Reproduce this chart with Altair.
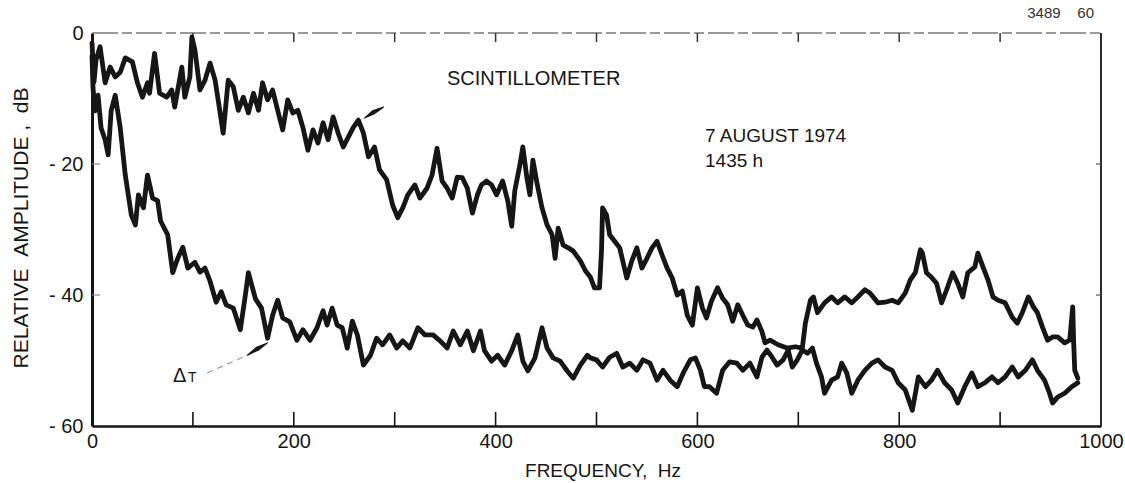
import altair as alt
import pandas as pd

# Spectrum of the scintillometer signal (frequency in Hz, relative amplitude in dB)
SCINT_HZ = [
    0, 2, 4, 8, 13, 18, 23, 28, 33, 40,
    45, 50, 55, 57, 62, 67, 74, 79, 82, 89,
    92, 97, 99, 102, 107, 112, 117, 122, 127, 130,
    135, 140, 145, 150, 155, 160, 165, 169, 174, 179,
    184, 189, 194, 199, 204, 209, 214, 219, 224, 229,
    234, 239, 244, 249, 254, 259, 264, 269, 274, 280,
    285, 292, 298, 303, 308, 313, 320, 325, 332, 337,
    342, 347, 352, 357, 362, 367, 372, 377, 382, 386,
    391, 396, 401, 407, 412, 416, 419, 424, 427, 431,
    434, 437, 441, 446, 451, 456, 459, 462, 467, 472,
    477, 484, 489, 494, 498, 503, 505, 506, 510, 513,
    518, 523, 530, 535, 540, 545, 550, 555, 560, 565,
    570, 575, 580, 585, 590, 595, 600, 605, 609, 614,
    620, 625, 630, 635, 640, 645, 650, 655, 659, 664,
    667, 672, 680, 689, 697, 704, 707, 712, 715, 719,
    726, 733, 739, 746, 753, 759, 766, 771, 779, 786,
    793, 799, 806, 811, 816, 821, 823, 827, 832, 837,
    842, 847, 853, 858, 863, 868, 875, 878, 883, 888,
    893, 898, 905, 912, 917, 922, 928, 933, 937, 942,
    947, 952, 957, 964, 969, 972, 973, 974, 977,
]
SCINT_DB = [
    -1.5, -7.5, -4.1, -2.1, -7.6, -5.2, -6.7, -6.0, -3.8, -4.4,
    -7.6, -9.8, -7.6, -9.2, -3.1, -9.2, -9.8, -8.7, -11.3, -5.2,
    -9.8, -6.7, -0.6, -2.6, -8.7, -7.2, -4.6, -7.2, -12.2, -15.3,
    -7.2, -8.2, -11.8, -9.8, -12.2, -9.2, -11.8, -7.6, -10.2, -8.7,
    -11.8, -14.8, -10.2, -12.2, -11.8, -14.4, -17.9, -14.8, -16.8, -13.7,
    -16.3, -12.8, -15.3, -17.4, -15.9, -14.4, -13.3, -15.3, -18.9, -17.4,
    -20.9, -22.4, -26.3, -28.2, -26.7, -24.7, -23.2, -25.2, -23.7, -21.7,
    -17.6, -22.6, -23.7, -25.2, -22.0, -22.1, -23.7, -27.5, -24.7, -23.2,
    -22.6, -23.2, -24.7, -22.6, -25.6, -29.5, -24.1, -20.2, -17.4, -22.1,
    -24.7, -19.4, -22.9, -26.7, -29.3, -30.8, -34.4, -29.8, -32.4, -32.8,
    -33.3, -34.8, -36.3, -37.3, -38.9, -38.9, -33.1, -26.7, -27.8, -30.8,
    -31.8, -32.8, -37.4, -34.8, -32.8, -35.9, -34.4, -32.8, -31.8, -33.9,
    -35.9, -37.4, -40.0, -39.4, -43.1, -44.6, -38.9, -42.0, -43.5, -40.9,
    -38.9, -40.5, -41.5, -44.0, -41.5, -43.1, -44.6, -44.9, -43.8, -45.6,
    -47.3, -46.9, -47.6, -48.1, -47.9, -48.1, -44.3, -40.8, -40.3, -42.7,
    -41.2, -40.3, -41.2, -40.3, -41.2, -40.3, -39.2, -39.7, -41.2, -41.1,
    -40.8, -41.2, -39.7, -37.7, -36.6, -33.1, -33.6, -36.6, -37.3, -38.2,
    -41.2, -39.2, -36.6, -38.2, -40.3, -36.6, -35.7, -33.6, -35.7, -37.7,
    -40.3, -40.8, -41.2, -43.4, -44.3, -42.7, -40.3, -41.8, -42.7, -44.9,
    -46.9, -46.4, -46.4, -47.3, -46.9, -41.8, -47.6, -51.5, -52.7,
]

# Spectrum of the temperature difference (Delta T) signal
DT_HZ = [
    0, 1, 3, 6, 9, 13, 16, 19, 23, 28,
    33, 39, 43, 46, 51, 55, 60, 65, 68, 75,
    80, 85, 90, 95, 102, 107, 112, 117, 123, 128,
    133, 140, 147, 152, 155, 162, 168, 174, 179, 184,
    189, 196, 203, 209, 216, 223, 229, 233, 238, 243,
    248, 253, 258, 263, 269, 276, 282, 288, 295, 302,
    308, 315, 323, 330, 338, 345, 352, 358, 365, 372,
    378, 385, 389, 396, 402, 409, 416, 422, 427, 432,
    439, 446, 451, 457, 464, 471, 477, 484, 491, 494,
    500, 506, 513, 520, 526, 533, 540, 546, 553, 560,
    566, 573, 580, 586, 593, 598, 603, 607, 612, 619,
    625, 632, 639, 645, 652, 659, 664, 669, 674, 679,
    685, 690, 694, 699, 704, 709, 714, 718, 723, 726,
    733, 739, 743, 748, 753, 759, 766, 773, 779, 786,
    793, 799, 806, 813, 819, 826, 832, 838, 845, 852,
    858, 865, 872, 878, 885, 892, 898, 905, 912, 918,
    925, 932, 937, 944, 949, 952, 957, 964, 971, 977,
]
DT_DB = [
    -3.5, -8.4, -11.9, -9.5, -14.5, -16.3, -18.6, -11.9, -9.5, -14.5,
    -21.7, -27.8, -29.3, -24.7, -26.7, -21.7, -25.2, -25.6, -28.7, -30.8,
    -36.6, -34.4, -32.7, -35.9, -35.0, -36.5, -35.9, -37.9, -41.1, -39.5,
    -41.5, -42.0, -45.3, -40.0, -36.6, -40.6, -42.0, -46.6, -43.1, -40.8,
    -43.5, -44.1, -46.9, -45.3, -46.9, -45.0, -42.4, -44.6, -42.0, -44.6,
    -45.0, -48.1, -44.0, -46.1, -50.7, -49.2, -46.6, -47.6, -46.1, -48.1,
    -47.0, -48.1, -45.0, -46.1, -46.1, -47.0, -48.1, -45.5, -47.6, -45.5,
    -48.5, -45.5, -48.5, -50.1, -49.2, -50.7, -48.5, -46.1, -50.1, -51.6,
    -49.6, -45.0, -48.1, -49.6, -50.1, -51.6, -52.7, -50.7, -49.2, -49.6,
    -49.9, -51.0, -49.5, -48.9, -51.0, -50.4, -51.5, -49.9, -50.4, -53.0,
    -51.5, -53.0, -54.0, -51.9, -49.9, -49.6, -51.5, -54.0, -54.0, -55.0,
    -51.5, -50.2, -50.4, -51.5, -50.4, -52.5, -49.5, -48.4, -49.5, -50.7,
    -49.9, -48.4, -51.0, -49.9, -48.4, -48.9, -48.1, -50.4, -52.5, -55.0,
    -53.0, -52.5, -50.4, -51.9, -55.0, -53.0, -51.5, -50.4, -49.9, -51.0,
    -51.5, -53.4, -54.5, -57.6, -52.5, -54.0, -53.0, -51.5, -53.4, -54.5,
    -56.5, -54.0, -51.9, -54.0, -53.4, -52.5, -53.4, -52.5, -51.0, -52.5,
    -51.5, -49.9, -51.5, -53.0, -55.0, -56.5, -55.6, -55.0, -54.0, -53.4,
]

assert len(SCINT_HZ) == len(SCINT_DB)
assert len(DT_HZ) == len(DT_DB)

# Axis tick values
X_LABELS = [0, 200, 400, 600, 800, 1000]
X_TICKS = [100, 200, 300, 400, 500, 600, 700, 800, 900]
Y_LABELS = [0, -20, -40, -60]
Y_TICKS = [-20, -40]

# Pointers from the labels to the curves
SCINT_PTR_HZ = [270, 279, 289]
SCINT_PTR_DB = [-13.0, -12.1, -11.3]
DT_LEAD_HZ = [114, 154]
DT_LEAD_DB = [-51.9, -49.2]
DT_PTR_HZ = [154, 164, 174]
DT_PTR_DB = [-49.2, -48.2, -47.3]

FONT = "Liberation Sans"
INK = "#161616"
NBSP = "\u00a0"
W, H = 1009, 393

x_scale = alt.Scale(domain=[0, 1000], nice=False, zero=False)
y_scale = alt.Scale(domain=[-60, 0], nice=False, zero=False)

spectra = pd.concat([
    pd.DataFrame({"hz": SCINT_HZ, "db": SCINT_DB, "series": "SCINTILLOMETER"}),
    pd.DataFrame({"hz": DT_HZ, "db": DT_DB, "series": "DT"}),
], ignore_index=True)

x_axis = alt.Axis(
    values=X_LABELS, ticks=False, grid=False, title=None, format="d",
    domainColor=INK, domainWidth=2.5, labelFlush=False,
    labelFont=FONT, labelFontSize=20, labelColor=INK, labelPadding=5,
)
y_axis = alt.Axis(
    values=Y_LABELS, ticks=False, grid=False, title=None,
    domainColor=INK, domainWidth=3,
    labelExpr="datum.value == 0 ? '0' : '- ' + abs(datum.value)",
    labelFont=FONT, labelFontSize=20, labelColor=INK, labelPadding=9,
)

lines = alt.Chart(spectra).mark_line(
    color=INK, strokeWidth=4.8, strokeJoin="round", strokeCap="round"
).encode(
    x=alt.X("hz:Q", scale=x_scale, axis=x_axis),
    y=alt.Y("db:Q", scale=y_scale, axis=y_axis),
    detail="series:N",
    order="hz:Q",
)

# Inward tick marks along the frame
bottom_ticks = alt.Chart(pd.DataFrame({"hz": X_TICKS})).mark_rule(
    color=INK, strokeWidth=1.6
).encode(x=alt.X("hz:Q", scale=x_scale), y=alt.value(H), y2=alt.value(H - 14))

top_ticks = alt.Chart(pd.DataFrame({"hz": X_TICKS})).mark_rule(
    color="#333", strokeWidth=1.5
).encode(x=alt.X("hz:Q", scale=x_scale), y=alt.value(0), y2=alt.value(9))

left_ticks = alt.Chart(pd.DataFrame({"db": Y_TICKS})).mark_rule(
    color="#888", strokeWidth=1.2
).encode(y=alt.Y("db:Q", scale=y_scale), x=alt.value(0), x2=alt.value(8))

right_ticks = alt.Chart(pd.DataFrame({"db": Y_TICKS})).mark_rule(
    color="#555", strokeWidth=1.2
).encode(y=alt.Y("db:Q", scale=y_scale), x=alt.value(W), x2=alt.value(W - 5))

# Top and right edges of the frame
top_edge = alt.Chart(pd.DataFrame({"k": [0]})).mark_rule(
    color="#777", strokeWidth=1.5, strokeDash=[26, 4, 10, 4]
).encode(x=alt.value(0), x2=alt.value(W), y=alt.value(0))

right_edge = alt.Chart(pd.DataFrame({"k": [0]})).mark_rule(
    color=INK, strokeWidth=1.8
).encode(x=alt.value(W), y=alt.value(0), y2=alt.value(H))

# Arrow pointers drawn as tapered trails
scint_ptr = alt.Chart(pd.DataFrame({
    "hz": SCINT_PTR_HZ, "db": SCINT_PTR_DB, "w": [0, 4.5, 1.2]
})).mark_trail(color=INK).encode(
    x=alt.X("hz:Q", scale=x_scale), y=alt.Y("db:Q", scale=y_scale),
    size=alt.Size("w:Q", scale=None, legend=None), order="hz:Q",
)

dt_lead = alt.Chart(pd.DataFrame({"hz": DT_LEAD_HZ, "db": DT_LEAD_DB})).mark_line(
    color="#999", strokeWidth=1.2, strokeDash=[6, 5]
).encode(x=alt.X("hz:Q", scale=x_scale), y=alt.Y("db:Q", scale=y_scale), order="hz:Q")

dt_ptr = alt.Chart(pd.DataFrame({
    "hz": DT_PTR_HZ, "db": DT_PTR_DB, "w": [1.2, 4.5, 0]
})).mark_trail(color=INK).encode(
    x=alt.X("hz:Q", scale=x_scale), y=alt.Y("db:Q", scale=y_scale),
    size=alt.Size("w:Q", scale=None, legend=None), order="hz:Q",
)


def label(text, x, y, size, align="left", baseline="alphabetic", angle=0,
          color=INK, weight="normal"):
    return alt.Chart(pd.DataFrame({"t": [text]})).mark_text(
        font=FONT, fontSize=size, color=color, align=align, baseline=baseline,
        angle=angle, fontWeight=weight,
    ).encode(text="t:N", x=alt.value(x), y=alt.value(y))


texts = [
    label("SCINTILLOMETER", 355, 52, 20),
    label("7 AUGUST 1974", 613, 109, 19),
    label("1435 h", 613, 134, 19),
    label("Δ", 81, 349, 20),
    label("T", 96, 349, 14),
    label("3489" + NBSP * 4 + "60", 1002, -15, 15, align="right", color="#333"),
    label("RELATIVE" + NBSP * 2 + "AMPLITUDE" + NBSP + "," + NBSP * 2 + "dB", -70, 195, 21,
          align="center", baseline="middle", angle=270),
    label("FREQUENCY," + NBSP * 2 + "Hz", 511, H + 51, 19, align="center"),
]

chart = alt.layer(
    top_edge, right_edge, bottom_ticks, top_ticks, left_ticks, right_ticks,
    lines, scint_ptr, dt_lead, dt_ptr, *texts,
).properties(
    width=W, height=H,
    padding={"left": 92, "top": 33, "right": 24, "bottom": 57},
    autosize=alt.AutoSizeParams(type="none"),
    background="white",
).configure_view(stroke=None)

chart.save("out.html", embed_options={"renderer": "svg", "actions": False})
